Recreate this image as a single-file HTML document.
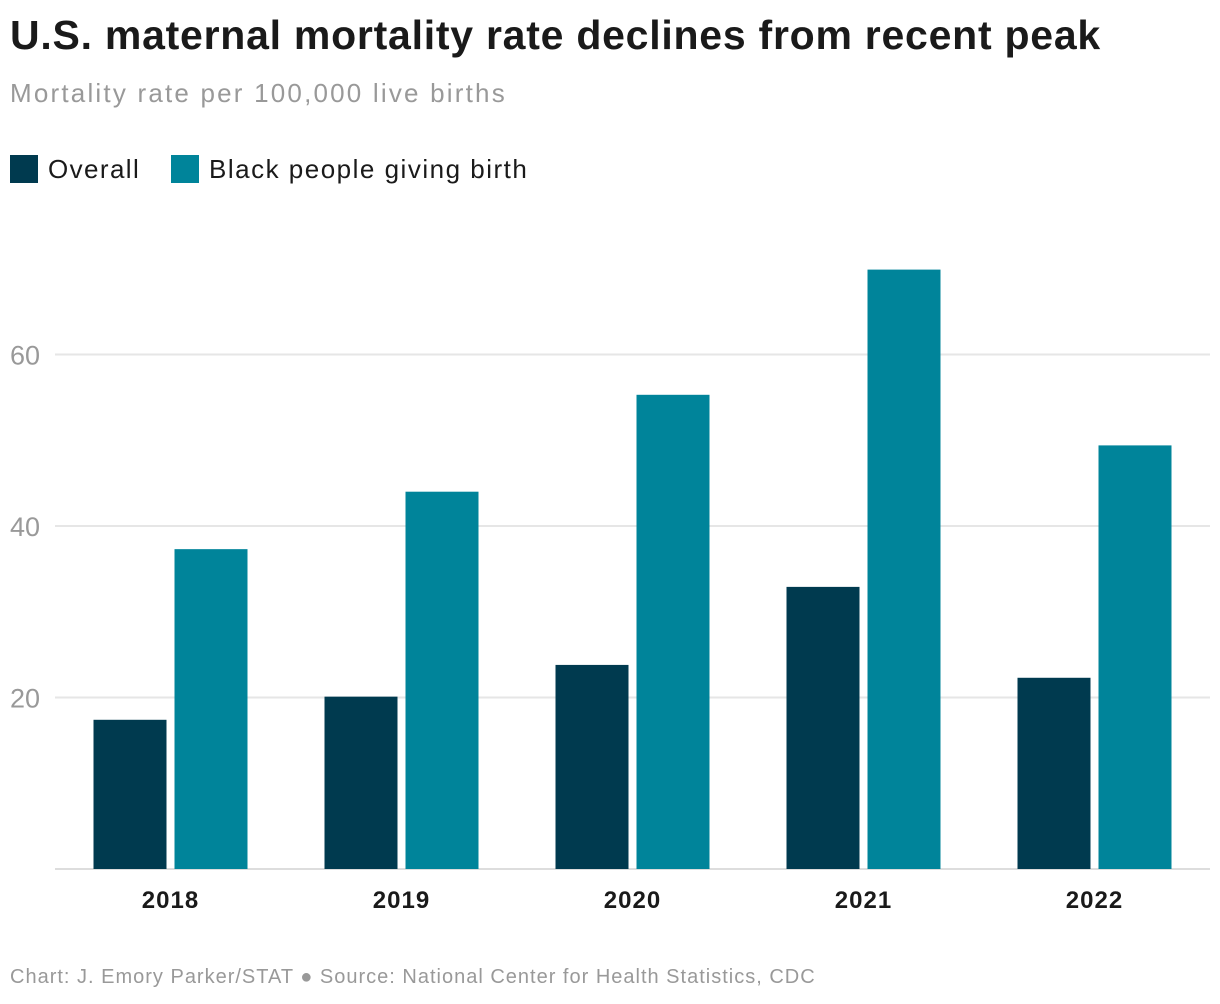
<!DOCTYPE html>
<html><head><meta charset="utf-8"><style>
body{margin:0;width:1220px;height:1004px;background:#fff;font-family:"Liberation Sans",sans-serif;overflow:hidden;position:relative}
.t{position:absolute;white-space:nowrap}
</style></head><body>
<div class="t" style="left:10px;top:12px;font-size:41px;font-weight:bold;color:#1a1a1a;letter-spacing:0.75px">U.S. maternal mortality rate declines from recent peak</div>
<div class="t" style="left:10px;top:78px;font-size:26px;color:#999;letter-spacing:2.2px">Mortality rate per 100,000 live births</div>
<div class="t" style="left:10px;top:154px;font-size:26px;color:#1a1a1a;letter-spacing:1.4px"><span style="display:inline-block;width:28px;height:28px;background:#003a4f;vertical-align:-5px;margin-right:10px"></span>Overall</div>
<div class="t" style="left:171px;top:154px;font-size:26px;color:#1a1a1a;letter-spacing:1.5px"><span style="display:inline-block;width:28px;height:28px;background:#00849a;vertical-align:-5px;margin-right:10px"></span>Black people giving birth</div>
<svg id="chart" width="1220" height="1004" style="position:absolute;left:0;top:0"></svg>
<div class="t" style="left:10px;top:966px;font-size:20px;color:#999;letter-spacing:1px">Chart: J. Emory Parker/STAT ● Source: National Center for Health Statistics, CDC</div>
<script>
const categories=["2018","2019","2020","2021","2022"];
const overall=[17.4,20.1,23.8,32.9,22.3];
const black=[37.3,44.0,55.3,69.9,49.4];
const yTicks=[20,40,60];
const svg=document.getElementById('chart');
const NS='http://www.w3.org/2000/svg';
const x0=55,x1=1210,y0=869,pxPer=8.575;
const band=(x1-x0)/categories.length;
const y=v=>y0-v*pxPer;
function mk(t,a){const e=document.createElementNS(NS,t);for(const k in a)e.setAttribute(k,a[k]);svg.appendChild(e);return e;}
yTicks.forEach(v=>{
 const l=mk('line',{x1:x0,x2:x1,y1:y(v),y2:y(v),stroke:'#e6e6e6','stroke-width':2});
 
 
 const t=mk('text',{x:10,y:y(v)+10,'font-size':27,fill:'#999','font-family':'Liberation Sans, sans-serif'});
 t.textContent=v;
 
 
});
const base=mk('line',{x1:x0,x2:x1,y1:y0,y2:y0,stroke:'#ddd','stroke-width':2});


const bw=73,gap=8;
categories.forEach((c,i)=>{
 const cx=x0+band*(i+0.5);
 const r1=mk('rect',{x:cx-gap/2-bw,y:y(overall[i]),width:bw,height:overall[i]*pxPer,fill:'#003a4f'});
 
 
 const r2=mk('rect',{x:cx+gap/2,y:y(black[i]),width:bw,height:black[i]*pxPer,fill:'#00849a'});
 
 
 const t=mk('text',{x:cx,y:908,'font-size':24,'font-weight':'bold',fill:'#1a1a1a','text-anchor':'middle','letter-spacing':1,'font-family':'Liberation Sans, sans-serif'});
 t.textContent=c;
 
 
});
</script>
</body></html>
